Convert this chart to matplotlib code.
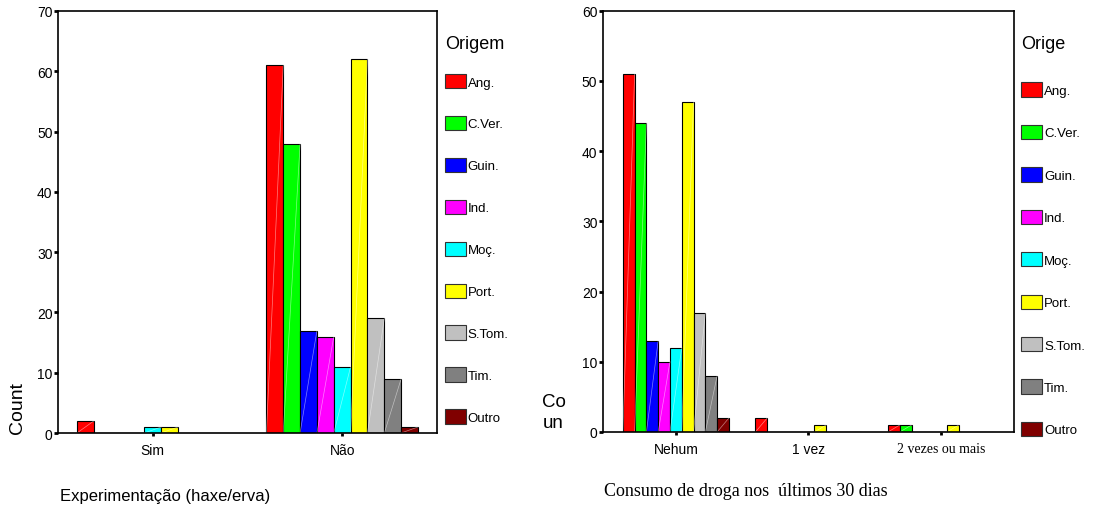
import numpy as np
import matplotlib
matplotlib.use("Agg")
import matplotlib.pyplot as plt
from matplotlib.patches import Patch

# origins (legend entries) and their colours
origins = ["Ang.", "C.Ver.", "Guin.", "Ind.", "Moç.", "Port.", "S.Tom.", "Tim.", "Outro"]
colors = ["#ff0000", "#00ff00", "#0000ff", "#ff00ff", "#00ffff",
          "#ffff00", "#c0c0c0", "#808080", "#800000"]

# left chart: Experimentação (haxe/erva)
exp_cats = ["Sim", "Não"]
exp_counts = [
    [2, 61],   # Ang.
    [0, 48],   # C.Ver.
    [0, 17],   # Guin.
    [0, 16],   # Ind.
    [1, 11],   # Moç.
    [1, 62],   # Port.
    [0, 19],   # S.Tom.
    [0, 9],    # Tim.
    [0, 1],    # Outro
]

# right chart: Consumo de droga nos últimos 30 dias
cons_cats = ["Nehum", "1 vez", "2 vezes ou mais"]
cons_counts = [
    [51, 2, 1],
    [44, 0, 1],
    [13, 0, 0],
    [10, 0, 0],
    [12, 0, 0],
    [47, 1, 1],
    [17, 0, 0],
    [8, 0, 0],
    [2, 0, 0],
]

plt.rcParams['font.family'] = ['Liberation Sans', 'DejaVu Sans']

fig = plt.figure(figsize=(11.09, 5.10), dpi=100)


def draw_bars(ax, cats, counts):
    n = len(counts)
    w = 0.8 / n
    x = np.arange(len(cats))
    for i, vals in enumerate(counts):
        bars = ax.bar(x - 0.4 + w * (i + 0.5), vals, width=w, color=colors[i],
                      edgecolor="black", linewidth=0.8)
        # faint diagonal highlight inside each bar
        for b in bars:
            if b.get_height() > 0:
                x0, h = b.get_x(), b.get_height()
                ax.plot([x0, x0 + b.get_width()], [0, h], color="white",
                        lw=0.5, alpha=0.5)
    ax.set_xticks(x)
    ax.set_xticklabels(cats)
    for s in ax.spines.values():
        s.set_linewidth(1.2)
    ax.tick_params(axis="y", length=3, width=2, pad=1, labelsize=10)
    ax.tick_params(axis="x", length=2, width=2, pad=5, labelsize=10)


def add_legend(title, x, y, sep, spacing):
    handles = [Patch(facecolor=c, edgecolor="#333333", linewidth=0.8, label=o)
               for c, o in zip(colors, origins)]
    leg = fig.legend(handles=handles, title=title, loc="upper left",
                     bbox_to_anchor=(x, y), frameon=False, fontsize=9.5,
                     title_fontsize=13, labelspacing=spacing, handlelength=1.6,
                     handleheight=1.3, handletextpad=0.15, alignment="left",
                     borderaxespad=0, borderpad=0)
    leg._legend_box.sep = sep
    return leg


# left axes
ax1 = fig.add_axes([0.0523, 0.149, 0.3417, 0.8275])
draw_bars(ax1, exp_cats, exp_counts)
ax1.set_xlim(-0.5, 1.5)
ax1.set_ylim(0, 70)
ax1.set_yticks(range(0, 71, 10))
ax1.set_ylabel("Count", fontsize=14, loc="bottom", labelpad=8)
add_legend("Origem", 0.401, 0.93, 16, 2.07)

# right axes
ax2 = fig.add_axes([0.5437, 0.151, 0.3706, 0.826])
draw_bars(ax2, cons_cats, cons_counts)
ax2.set_xlim(-0.55, 2.55)
ax2.set_ylim(0, 60)
ax2.set_yticks(range(0, 61, 10))
ax2.get_xticklabels()[2].set_family(['Liberation Serif', 'DejaVu Serif'])
fig.text(0.489, 0.19, "Co\nun", fontsize=13.5, ha="left", va="center",
         linespacing=1.25)
add_legend("Orige", 0.9205, 0.93, 22, 2.11)

fig.text(0.054, 1 - 497 / 510, "Experimentação (haxe/erva)", fontsize=12,
         ha="left", va="center")
fig.text(0.545, 1 - 492 / 510, "Consumo de droga nos  últimos 30 dias",
         fontsize=13, ha="left", va="center",
         family=['Liberation Serif', 'DejaVu Serif'])

fig.savefig("out.png", dpi=100)
